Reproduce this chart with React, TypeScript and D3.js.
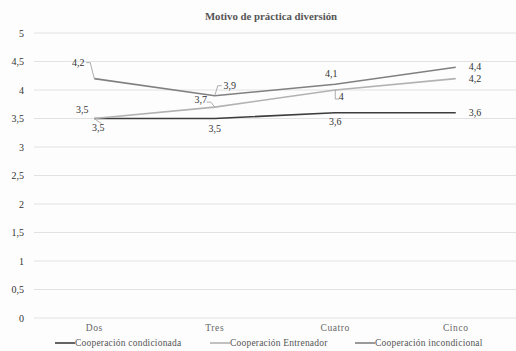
import React from "react";
import * as d3 from "d3";

const categories = ["Dos", "Tres", "Cuatro", "Cinco"];
const condicionada = [3.5, 3.5, 3.6, 3.6];
const entrenador = [3.5, 3.7, 4, 4.2];
const incondicional = [4.2, 3.9, 4.1, 4.4];
const yTicks = [0, 0.5, 1, 1.5, 2, 2.5, 3, 3.5, 4, 4.5, 5];
const seriesNames = ["Cooperación condicionada", "Cooperación Entrenador", "Cooperación incondicional"];

const W = 516;
const H = 351;
const font = "Liberation Serif, Tinos, DejaVu Serif, serif";
const fmt = (v: number) => String(v).replace(".", ",");

type Lab = { dx: number; dy: number; anchor?: string; leader?: [number, number][] };

export default function App() {
  const x = d3.scaleBand<string>().domain(categories).range([34, 516]);
  const y = d3.scaleLinear().domain([0, 5]).range([318, 33]);
  const cx = (c: string) => (x(c) ?? 0) + x.bandwidth() / 2;
  const line = d3
    .line<number>()
    .x((_, i) => cx(categories[i]))
    .y((d) => y(d));

  const series = [
    {
      name: seriesNames[0],
      values: condicionada,
      color: "#3d3d3d",
      labels: [
        { dx: -12, dy: -6 },
        { dx: 0, dy: 13 },
        { dx: 0, dy: 12 },
        { dx: 13, dy: 3, anchor: "start" },
      ] as Lab[],
    },
    {
      name: seriesNames[1],
      values: entrenador,
      color: "#b2b2b2",
      labels: [
        { dx: 4, dy: 12, leader: [[0, 0], [7, 5]] },
        { dx: -14, dy: -4, leader: [[0, 0], [-4, -5], [-8, -5]] },
        { dx: 6, dy: 10, leader: [[0, 0], [0, 9], [4, 9]] },
        { dx: 13, dy: 3, anchor: "start" },
      ] as Lab[],
    },
    {
      name: seriesNames[2],
      values: incondicional,
      color: "#808080",
      labels: [
        { dx: -16, dy: -13, leader: [[0, 0], [-4, -16], [-8, -16]] },
        { dx: 15, dy: -7, leader: [[0, 0], [3, -10], [7, -10]] },
        { dx: -4, dy: -7 },
        { dx: 13, dy: 3, anchor: "start" },
      ] as Lab[],
    },
  ];

  const legendX = [55, 210, 355];

  return (
    <svg
      width={W}
      height={H}
      style={{ display: "block", position: "absolute", left: 0, top: 0, fontFamily: font }}
    >
      <rect width={W} height={H} fill="#fdfdfd" />
      <text x={271} y={20} textAnchor="middle" fontSize={10.8} fontWeight="bold" fill="#555">
        Motivo de práctica diversión
      </text>
      {yTicks.map((t) => (
        <g key={t}>
          <line x1={34} x2={516} y1={y(t)} y2={y(t)} stroke="#e2e2e2" strokeWidth={1} />
          <text x={24} y={y(t) + 3.5} textAnchor="end" fontSize={10} fill="#333">
            {fmt(t)}
          </text>
        </g>
      ))}
      {categories.map((c) => (
        <text key={c} x={cx(c)} y={331} textAnchor="middle" fontSize={9.5} letterSpacing={0.6} fill="#666">
          {c}
        </text>
      ))}
      {series.map((s) => (
        <path key={s.name} d={line(s.values) ?? ""} fill="none" stroke={s.color} strokeWidth={1.6} />
      ))}
      {series.map((s) =>
        s.values.map((v, i) => {
          const px = cx(categories[i]);
          const py = y(v);
          const l = s.labels[i];
          return (
            <g key={s.name + i}>
              {l.leader && (
                <polyline
                  points={l.leader.map(([a, b]) => `${px + a},${py + b}`).join(" ")}
                  fill="none"
                  stroke="#999"
                  strokeWidth={0.8}
                />
              )}
              <text
                x={px + l.dx}
                y={py + l.dy}
                textAnchor={l.anchor ?? "middle"}
                fontSize={10}
                fill="#333"
              >
                {fmt(v)}
              </text>
            </g>
          );
        })
      )}
      {series.map((s, i) => (
        <g key={"leg" + i}>
          <line x1={legendX[i]} x2={legendX[i] + 20} y1={343} y2={343} stroke={s.color} strokeWidth={1.6} />
          <text x={legendX[i] + 20} y={346} fontSize={9.5} letterSpacing={0.2} fill="#555">
            {s.name}
          </text>
        </g>
      ))}
    </svg>
  );
}
